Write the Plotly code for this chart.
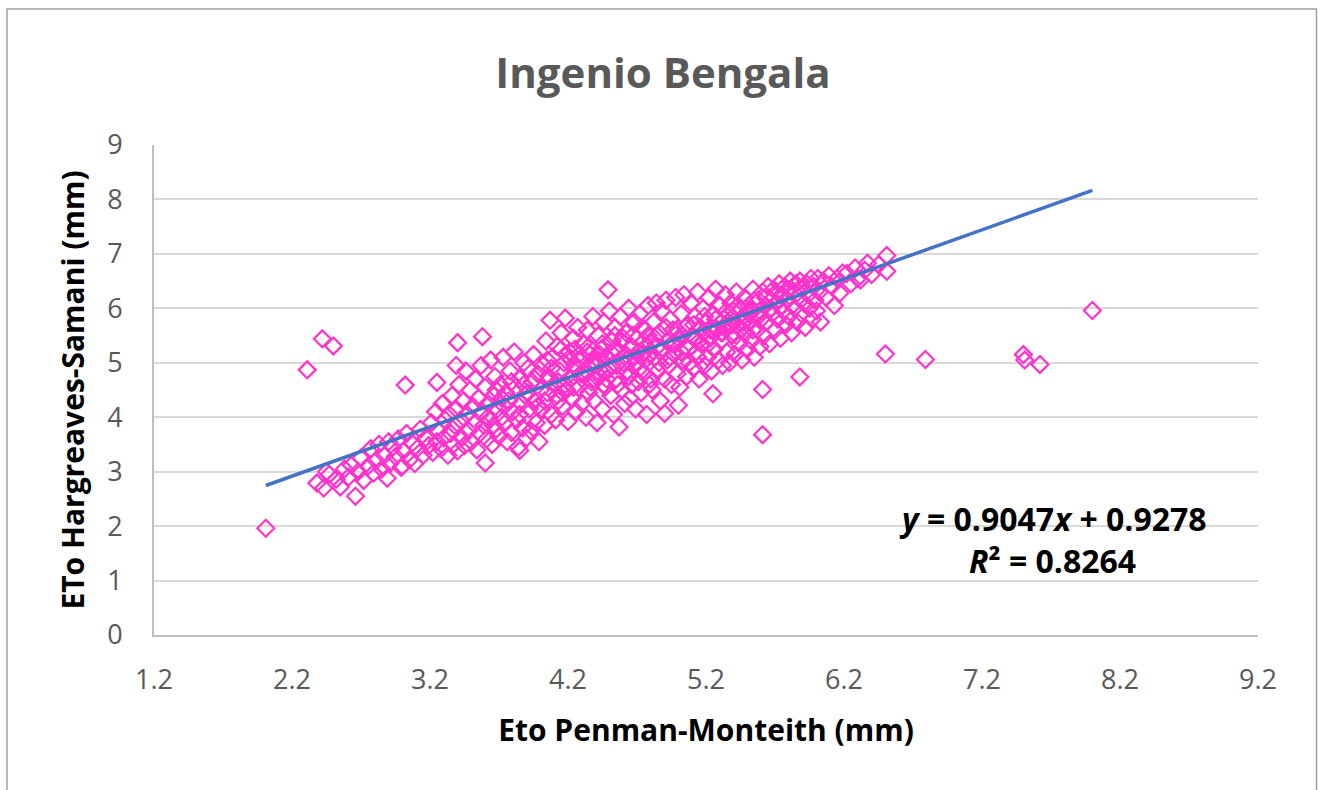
import plotly.graph_objects as go

# ---- Data ----
# Low band (PM 2.3 - 3.2)
pm_low = [2.38, 2.43, 2.45, 2.47, 2.52, 2.55, 2.58, 2.61, 2.63, 2.66, 2.68, 2.70, 2.72, 2.75, 2.77,
          2.79, 2.81, 2.83, 2.85, 2.87, 2.89, 2.90, 2.91, 2.93, 2.95, 2.97, 2.99, 3.00, 3.01, 3.03,
          3.05, 3.07, 3.09, 3.11, 3.13, 3.15, 3.17, 3.19]
hs_low = [2.79, 2.70, 3.00, 2.95, 2.86, 2.72, 3.05, 2.90, 3.12, 2.55, 3.00, 3.25, 2.84, 3.10, 3.42,
          2.97, 3.20, 3.50, 3.05, 3.30, 2.88, 3.55, 3.15, 3.45, 3.28, 3.60, 3.08, 3.10, 3.38, 3.70,
          3.22, 3.52, 3.15, 3.43, 3.78, 3.30, 3.62, 3.48]

# Middle band (PM 3.2 - 4.0)
pm_mid = [3.21, 3.22, 3.24, 3.25, 3.26, 3.28, 3.29, 3.30, 3.31, 3.33, 3.34, 3.35, 3.36, 3.37, 3.38,
          3.39, 3.39, 3.40, 3.41, 3.42, 3.43, 3.44, 3.45, 3.46, 3.47, 3.48, 3.49, 3.50, 3.51, 3.52,
          3.53, 3.54, 3.55, 3.56, 3.57, 3.58, 3.59, 3.60, 3.61, 3.62, 3.63, 3.64, 3.65, 3.66, 3.67,
          3.68, 3.69, 3.70, 3.71, 3.72, 3.73, 3.74, 3.75, 3.76, 3.77, 3.78, 3.79, 3.80, 3.81, 3.82,
          3.83, 3.84, 3.85, 3.86, 3.87, 3.88, 3.89, 3.90, 3.91, 3.92, 3.93, 3.94, 3.95, 3.96, 3.97,
          3.98, 3.99, 4.00]
hs_mid = [3.90, 3.35, 4.10, 3.55, 3.75, 3.42, 4.25, 3.62, 3.95, 3.30, 4.05, 3.70, 4.40, 3.50, 3.85,
          4.15, 4.95, 3.38, 4.60, 3.95, 3.62, 4.30, 3.48, 4.85, 4.05, 3.75, 4.50, 3.55, 4.20, 3.88,
          4.70, 3.40, 4.35, 3.70, 4.95, 4.10, 3.85, 4.55, 3.60, 4.25, 3.95, 5.05, 3.50, 4.40, 4.75,
          3.78, 4.15, 3.65, 4.60, 4.00, 5.10, 3.88, 4.45, 3.55, 4.30, 4.85, 3.72, 4.10, 5.20, 4.55,
          3.95, 3.45, 4.70, 4.25, 3.80, 5.00, 4.40, 3.62, 4.90, 4.15, 3.75, 4.65, 5.15, 4.30, 3.90,
          4.80, 3.55, 4.50]

# Core band (PM 4.0 - 4.8)
pm_core = [4.01, 4.02, 4.03, 4.04, 4.05, 4.05, 4.06, 4.07, 4.08, 4.09, 4.10, 4.11, 4.12, 4.12, 4.13,
           4.14, 4.15, 4.15, 4.16, 4.17, 4.18, 4.18, 4.19, 4.20, 4.21, 4.22, 4.22, 4.23, 4.24, 4.25,
           4.25, 4.26, 4.27, 4.28, 4.28, 4.29, 4.30, 4.31, 4.32, 4.33, 4.33, 4.34, 4.35, 4.35, 4.36,
           4.36, 4.37, 4.38, 4.39, 4.40, 4.41, 4.41, 4.42, 4.42, 4.43, 4.44, 4.45, 4.45, 4.46, 4.47,
           4.48, 4.48, 4.49, 4.50, 4.51, 4.52, 4.52, 4.53, 4.54, 4.55, 4.55, 4.56, 4.56, 4.57, 4.58,
           4.59, 4.60, 4.60, 4.61, 4.62, 4.62, 4.63, 4.64, 4.64, 4.65, 4.66, 4.67, 4.68, 4.68, 4.69,
           4.70, 4.70, 4.71, 4.72, 4.72, 4.73, 4.74, 4.75, 4.76, 4.76, 4.77, 4.78, 4.78, 4.79, 4.80,
           4.80]
hs_core = [4.15, 4.95, 3.85, 5.40, 4.45, 5.05, 4.75, 5.78, 4.05, 5.10, 4.60, 3.95, 5.30, 4.40, 4.30,
           4.85, 5.55, 5.25, 4.20, 5.00, 5.82, 4.60, 4.50, 3.92, 5.20, 4.70, 5.05, 4.35, 5.45, 4.95,
           5.25, 4.10, 5.65, 4.55, 5.15, 5.05, 4.25, 5.35, 4.80, 4.00, 4.85, 5.60, 4.45, 5.30, 5.15,
           4.55, 4.65, 5.85, 4.30, 5.00, 3.90, 4.95, 5.50, 5.05, 4.75, 5.25, 4.15, 5.35, 5.75, 4.55,
           5.10, 4.70, 4.90, 5.95, 4.40, 5.40, 4.95, 4.05, 5.65, 4.70, 5.25, 5.20, 4.60, 3.82, 5.85,
           4.50, 5.00, 5.45, 4.25, 5.55, 5.15, 4.85, 6.00, 4.75, 4.35, 5.30, 4.95, 5.75, 5.10, 4.15,
           5.45, 5.00, 4.65, 5.90, 4.90, 4.45, 5.15, 4.80, 5.60, 5.05, 4.05, 6.05, 5.50, 4.60, 5.35,
           4.70]

# Upper-middle band (PM 4.8 - 5.6)
pm_upper = [4.81, 4.82, 4.83, 4.84, 4.85, 4.85, 4.86, 4.87, 4.88, 4.89, 4.90, 4.91, 4.92, 4.92, 4.93,
            4.94, 4.95, 4.96, 4.97, 4.98, 4.98, 4.99, 5.00, 5.01, 5.02, 5.03, 5.04, 5.05, 5.05, 5.06,
            5.07, 5.08, 5.09, 5.10, 5.11, 5.12, 5.12, 5.13, 5.14, 5.15, 5.16, 5.17, 5.18, 5.18, 5.19,
            5.20, 5.21, 5.22, 5.23, 5.24, 5.25, 5.25, 5.26, 5.27, 5.28, 5.29, 5.30, 5.31, 5.32, 5.32,
            5.33, 5.34, 5.35, 5.36, 5.37, 5.38, 5.38, 5.39, 5.40, 5.41, 5.42, 5.43, 5.44, 5.45, 5.45,
            5.46, 5.47, 5.48, 5.49, 5.50, 5.51, 5.52, 5.52, 5.53, 5.54, 5.55, 5.56, 5.57, 5.58, 5.58,
            5.59, 5.60]
hs_upper = [4.50, 5.75, 5.10, 6.10, 4.85, 5.30, 5.55, 4.30, 5.95, 5.25, 4.70, 6.15, 5.40, 5.05, 4.95,
            5.80, 4.60, 5.60, 5.15, 6.20, 5.35, 4.80, 5.45, 4.55, 5.90, 5.05, 6.25, 5.30, 5.65, 4.75,
            5.70, 5.00, 6.10, 5.50, 4.90, 5.85, 5.45, 5.20, 6.30, 4.70, 5.65, 5.35, 6.00, 5.55, 4.95,
            5.75, 5.10, 6.20, 5.45, 4.85, 5.90, 5.60, 5.25, 6.35, 5.60, 5.05, 6.05, 5.40, 4.95, 5.55,
            5.80, 6.25, 5.20, 5.65, 5.00, 6.10, 5.80, 5.50, 5.95, 5.15, 6.30, 5.70, 5.35, 6.00, 5.60,
            5.05, 5.85, 6.20, 5.55, 5.25, 6.05, 5.75, 5.95, 5.40, 6.35, 5.10, 5.90, 5.60, 6.15, 5.85,
            5.30, 5.80]

# Top band (PM 5.6 - 6.6)
pm_top = [5.61, 5.62, 5.63, 5.64, 5.65, 5.66, 5.67, 5.68, 5.69, 5.70, 5.71, 5.72, 5.73, 5.74, 5.75,
          5.76, 5.77, 5.78, 5.79, 5.80, 5.81, 5.82, 5.83, 5.84, 5.85, 5.86, 5.87, 5.88, 5.89, 5.90,
          5.91, 5.92, 5.93, 5.94, 5.95, 5.96, 5.97, 5.98, 5.99, 6.00, 6.01, 6.02, 6.03, 6.05, 6.07,
          6.09, 6.11, 6.13, 6.15, 6.17, 6.19, 6.22, 6.25, 6.28, 6.30, 6.32, 6.35, 6.37, 6.40, 6.45,
          6.51, 6.51]
hs_top = [6.30, 5.50, 6.05, 5.75, 6.40, 5.35, 6.15, 5.90, 6.35, 5.60, 6.10, 5.80, 6.45, 5.45, 6.25,
          5.95, 6.40, 5.70, 6.15, 5.85, 6.50, 5.55, 6.30, 6.00, 6.45, 5.75, 6.20, 6.50, 5.90, 6.35,
          6.10, 5.65, 6.45, 6.25, 6.00, 6.55, 5.80, 6.40, 6.15, 5.95, 6.55, 6.30, 5.75, 6.50, 6.20,
          6.60, 6.40, 6.05, 6.55, 6.28, 6.65, 6.64, 6.45, 6.74, 6.55, 6.52, 6.70, 6.83, 6.62, 6.80,
          6.97, 6.68]

# Extra points in the densest part of the cloud
pm_fill = [3.62, 3.68, 3.74, 3.79, 3.85, 3.91, 3.96, 4.03, 4.08, 4.13, 4.19, 4.24, 4.29, 4.34, 4.39,
           4.43, 4.47, 4.51, 4.55, 4.59, 4.63, 4.67, 4.71, 4.75, 4.79, 4.83, 4.87, 4.91, 4.95, 4.99,
           5.03, 5.07, 5.11, 5.15, 5.19, 5.23, 5.27, 5.31, 5.35, 5.39, 5.43, 5.47, 5.51, 5.55, 5.59,
           5.63, 5.67, 5.71, 5.75, 5.79, 3.66, 3.72, 3.88, 3.98, 4.06, 4.16, 4.26, 4.37, 4.46, 4.54,
           4.66, 4.74, 4.86, 4.94, 5.02, 5.14, 5.22, 5.34, 5.42, 5.54]
hs_fill = [4.00, 4.50, 4.20, 4.65, 4.05, 4.45, 4.70, 4.30, 4.90, 4.65, 5.15, 4.55, 4.80, 5.20, 4.70,
           5.15, 4.85, 5.20, 4.95, 5.40, 5.05, 5.50, 5.20, 5.40, 5.15, 5.45, 5.20, 5.65, 5.35, 5.60,
           5.50, 5.25, 5.70, 5.40, 5.85, 5.60, 5.80, 5.55, 5.95, 5.70, 6.05, 5.75, 5.90, 6.15, 5.95,
           6.20, 6.00, 6.30, 6.05, 6.35, 3.85, 4.35, 4.60, 4.20, 4.70, 4.45, 4.90, 5.00, 4.60, 5.50,
           4.60, 5.65, 5.00, 5.10, 5.20, 5.10, 5.35, 5.70, 5.50, 5.60]

# Isolated points
pm_out = [2.01, 2.31, 2.42, 2.50, 3.02, 3.25, 3.40, 3.58, 3.60, 3.85, 4.49, 4.90, 5.00, 5.25, 5.61,
          5.61, 5.88, 6.50, 6.79, 7.50, 7.51, 7.62, 8.00]
hs_out = [1.96, 4.87, 5.44, 5.31, 4.59, 4.64, 5.37, 5.48, 3.16, 3.39, 6.34, 4.07, 4.22, 4.43, 3.68,
          4.51, 4.74, 5.16, 5.06, 5.15, 5.05, 4.97, 5.96]

# Trendline coefficients shown on chart
slope = 0.9047
intercept = 0.9278
r_squared = 0.8264

x_ticks = [1.2, 2.2, 3.2, 4.2, 5.2, 6.2, 7.2, 8.2, 9.2]
y_ticks = [0, 1, 2, 3, 4, 5, 6, 7, 8, 9]

# ---- Build ----
pm = pm_low + pm_mid + pm_core + pm_upper + pm_top + pm_fill + pm_out
hs = hs_low + hs_mid + hs_core + hs_upper + hs_top + hs_fill + hs_out

FONT = "Open Sans"
TICK_GRAY = "#595959"

fig = go.Figure()
fig.add_trace(go.Scatter(
    x=pm, y=hs, mode="markers",
    marker=dict(symbol="diamond-open", size=13, color="#FF33CC",
                line=dict(width=2.2, color="#FF33CC")),
    showlegend=False, hoverinfo="x+y",
))

x_min, x_max = min(pm), max(pm)
fig.add_trace(go.Scatter(
    x=[x_min, x_max],
    y=[slope * x_min + intercept, slope * x_max + intercept],
    mode="lines", line=dict(color="#4472C4", width=3.5),
    showlegend=False, hoverinfo="skip",
))

W, H = 1318, 790
L, R, T, B = 154, 60, 145, 155
pw, ph = W - L - R, H - T - B

def px_to_paper_x(px):
    return (px - L) / pw

def px_to_paper_y(py):
    return (H - B - py) / ph

fig.update_layout(
    width=W, height=H,
    margin=dict(l=L, r=R, t=T, b=B, pad=0),
    paper_bgcolor="white", plot_bgcolor="white",
    font=dict(family=FONT, color=TICK_GRAY),
    title=dict(text="<b>Ingenio Bengala</b>", x=663 / W, xref="container", xanchor="center",
               y=1 - 73 / H, yref="container", yanchor="middle",
               font=dict(family=FONT, size=42, color="#595959")),
    xaxis=dict(range=[1.2, 9.2], tickvals=x_ticks, ticktext=[f"{v:.1f}" for v in x_ticks],
               showgrid=False, zeroline=False, showline=True, linecolor="#BFBFBF", linewidth=2,
               ticks="", ticklabelstandoff=20,
               tickfont=dict(family=FONT, size=27, color=TICK_GRAY),
               title=dict(text="<b>Eto Penman-Monteith (mm)</b>", standoff=24,
                          font=dict(family=FONT, size=30, color="#000000"))),
    yaxis=dict(range=[0, 9], tickvals=y_ticks, showgrid=True, gridcolor="#D9D9D9", gridwidth=2,
               zeroline=False, showline=True, linecolor="#BFBFBF", linewidth=2,
               ticks="", ticklabelstandoff=24,
               tickfont=dict(family=FONT, size=27, color=TICK_GRAY),
               title=dict(text="<b>ETo Hargreaves-Samani (mm)</b>", standoff=14,
                          font=dict(family=FONT, size=30, color="#000000"))),
)

# Outer chart border
fig.add_shape(type="rect", xref="paper", yref="paper",
              x0=px_to_paper_x(7), x1=px_to_paper_x(1316.5),
              y0=px_to_paper_y(805), y1=px_to_paper_y(9),
              line=dict(color="#A0A0A0", width=1.5), fillcolor="rgba(0,0,0,0)", layer="below")

# Trendline equation
fig.add_annotation(xref="paper", yref="paper", x=px_to_paper_x(1053), y=px_to_paper_y(518),
                   xanchor="center", yanchor="middle", showarrow=False,
                   text=f"<b><i>y</i> = {slope:.4f}<i>x</i> + {intercept:.4f}</b>",
                   font=dict(family=FONT, size=32, color="#000000"))
fig.add_annotation(xref="paper", yref="paper", x=px_to_paper_x(1052), y=px_to_paper_y(560),
                   xanchor="center", yanchor="middle", showarrow=False,
                   text=f"<b><i>R</i>² = {r_squared:.4f}</b>",
                   font=dict(family=FONT, size=32, color="#000000"))

fig.write_html("out.html")
